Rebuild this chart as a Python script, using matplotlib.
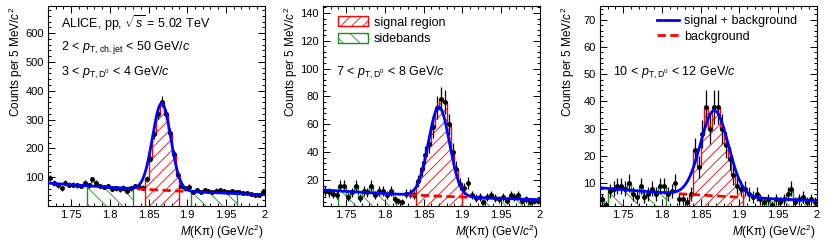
import numpy as np
import matplotlib
matplotlib.use('Agg')
import matplotlib.pyplot as plt
from matplotlib.patches import Patch
from matplotlib.lines import Line2D
from matplotlib.ticker import MultipleLocator, FixedLocator

plt.rcParams['font.family'] = ['Liberation Sans', 'DejaVu Sans']
plt.rcParams['mathtext.fontset'] = 'custom'
plt.rcParams['mathtext.rm'] = 'Liberation Sans'
plt.rcParams['mathtext.it'] = 'Liberation Sans:italic'
plt.rcParams['mathtext.bf'] = 'Liberation Sans:bold'
plt.rcParams['hatch.linewidth'] = 0.6

# ---------------- data ----------------
bin_lo, bin_hi, bin_w = 1.72, 2.0, 0.005
edges = np.round(np.arange(bin_lo, bin_hi + bin_w / 2, bin_w), 4)
centers = 0.5 * (edges[:-1] + edges[1:])

counts_p1 = [97, 80, 73, 62, 80, 75, 74, 72, 70, 80,
             72, 93, 80, 70, 66, 70, 60, 62, 58, 64,
             52, 62, 70, 68, 64, 95, 165, 250, 320, 362,
             320, 255, 180, 108, 70, 62, 68, 50, 55, 50,
             56, 52, 48, 54, 55, 52, 50, 52, 48, 50,
             45, 47, 42, 40, 38, 50]
counts_p2 = [12, 11, 10, 9, 16, 16, 8, 11, 16, 7,
             12, 11, 16, 9, 12, 12, 9, 12, 6, 5,
             4, 10, 10, 9, 19, 28, 38, 46, 58, 72,
             78, 76, 60, 40, 28, 17, 14, 18, 9, 7,
             8, 4, 8, 9, 7, 6, 8, 5, 9, 8,
             9, 5, 6, 4, 5, 5]
counts_p3 = [4, 2, 7, 8, 9, 9, 8, 10, 6, 5,
             9, 5, 6, 8, 6, 9, 9, 6, 7, 10,
             4, 4, 3, 6, 22, 16, 28, 38, 30, 38,
             38, 30, 24, 19, 13, 9, 8, 8, 6, 5,
             6, 4, 3, 4, 2, 4, 3, 4, 6, 8,
             3, 4, 5, 3, 4, 3]

# fit parameters: [bkg amplitude at 1.72, bkg slope, gaus amplitude, mean, sigma]
fit_p1 = [80.0, 2.5, 301.0, 1.867, 0.0118]
fit_p2 = [12.8, 2.8, 64.0, 1.870, 0.0135]
fit_p3 = [8.3, 3.0, 31.3, 1.868, 0.018]

signal_p1 = (1.845, 1.890)
signal_p2 = (1.840, 1.900)
signal_p3 = (1.835, 1.905)
sidebands_p1 = [(1.770, 1.830), (1.905, 1.965)]
sidebands_p2 = [(1.740, 1.815), (1.925, 1.985)]
sidebands_p3 = [(1.720, 1.805), (1.935, 2.000)]
bkg_range_p1 = (1.835, 1.900)
bkg_range_p2 = (1.830, 1.910)
bkg_range_p3 = (1.822, 1.907)

ylim_p1 = (0.5, 694)
ylim_p2 = (1.3, 145)
ylim_p3 = (1.6, 75)
yticks_p1 = [100, 200, 300, 400, 500, 600]
yticks_p2 = [20, 40, 60, 80, 100, 120, 140]
yticks_p3 = [10, 20, 30, 40, 50, 60, 70]
yminor = [20, 4, 2]

xticks = [1.75, 1.8, 1.85, 1.9, 1.95, 2.0]
xticklabels = ['1.75', '1.8', '1.85', '1.9', '1.95', '2']

texts_p1 = [r'ALICE, pp, $\sqrt{s}$ = 5.02 TeV',
            r'2 < $p_{\rm T,\,ch.jet}$ < 50 GeV/$c$',
            r'3 < $p_{\rm T,D^0}$ < 4 GeV/$c$']
texts_p2 = [r'7 < $p_{\rm T,D^0}$ < 8 GeV/$c$']
texts_p3 = [r'10 < $p_{\rm T,D^0}$ < 12 GeV/$c$']


def bkg(x, p):
    return p[0] * np.exp(-p[1] * (x - 1.72))


def total(x, p):
    return bkg(x, p) + p[2] * np.exp(-0.5 * ((x - p[3]) / p[4]) ** 2)


RED = '#ff0000'
GREEN = '#218c21'
BLUE = '#0000ff'

fig = plt.figure(figsize=(8.3, 2.42), dpi=100)
lefts = [48 / 830, 323 / 830, 600 / 830]
w = 216.5 / 830
bot = 36 / 242
h = 200 / 242

panels = [
    (counts_p1, fit_p1, signal_p1, sidebands_p1, bkg_range_p1, ylim_p1, yticks_p1, texts_p1),
    (counts_p2, fit_p2, signal_p2, sidebands_p2, bkg_range_p2, ylim_p2, yticks_p2, texts_p2),
    (counts_p3, fit_p3, signal_p3, sidebands_p3, bkg_range_p3, ylim_p3, yticks_p3, texts_p3),
]

for i, (cnt, fp, sig, sbs, brange, ylim, yt, txts) in enumerate(panels):
    ax = fig.add_axes([lefts[i], bot, w, h])
    cnt = np.array(cnt, dtype=float)

    def region(lo, hi, color, hatch):
        m = (centers > lo) & (centers < hi)
        idx = np.where(m)[0]
        e = edges[idx[0]: idx[-1] + 2]
        ax.stairs(cnt[idx], e, baseline=0, fill=True, facecolor='none',
                  edgecolor=color, hatch=hatch, linewidth=1.0, zorder=2)

    region(sig[0], sig[1], RED, '///')
    for lo, hi in sbs:
        region(lo, hi, GREEN, '\\\\')

    ax.errorbar(centers, cnt, yerr=np.sqrt(cnt), xerr=bin_w / 2, fmt='o',
                color='black', markersize=2.5, elinewidth=0.9, capsize=0, zorder=4)

    xb = np.linspace(brange[0], brange[1], 100)
    ax.plot(xb, bkg(xb, fp), color=RED, lw=2.0, ls=(0, (3, 1.6)), zorder=5)
    xf = np.linspace(1.72, 2.0, 600)
    ax.plot(xf, total(xf, fp), color=BLUE, lw=2.0, zorder=6)

    ax.set_xlim(1.72, 2.0)
    ax.set_ylim(*ylim)
    ax.xaxis.set_major_locator(FixedLocator(xticks))
    ax.set_xticklabels(xticklabels)
    ax.xaxis.set_minor_locator(MultipleLocator(0.01))
    ax.yaxis.set_major_locator(FixedLocator(yt))
    ax.yaxis.set_minor_locator(MultipleLocator(yminor[i]))
    ax.tick_params(which='both', direction='in', top=True, right=True,
                   labelsize=8, width=0.7, pad=3)
    ax.tick_params(which='major', length=5)
    ax.tick_params(which='minor', length=2.5)
    for s in ax.spines.values():
        s.set_linewidth(0.8)

    ax.set_ylabel(r'Counts per 5 MeV/$c^2$', fontsize=8.5, loc='top')
    ax.yaxis.set_label_coords(-0.105, 1.0)
    ax.set_xlabel(r'$M$(Kπ) (GeV/$c^2$)', fontsize=8.5, loc='right')
    ax.xaxis.set_label_coords(1.0, -0.085)

    if i == 0:
        ys = [0.915, 0.79, 0.665]
    else:
        ys = [0.665]
    for t, y in zip(txts, ys):
        ax.text(0.06, y, t, transform=ax.transAxes, fontsize=9, va='center', ha='left')

    if i == 1:
        handles = [Patch(facecolor='none', edgecolor=RED, hatch='///', linewidth=1.0),
                   Patch(facecolor='none', edgecolor=GREEN, hatch='\\\\', linewidth=1.0)]
        ax.legend(handles, ['signal region', 'sidebands'], loc='upper left',
                  bbox_to_anchor=(0.07, 0.948), frameon=False, fontsize=9,
                  handlelength=2.4, handleheight=0.85, handletextpad=0.45,
                  labelspacing=0.35, borderpad=0, borderaxespad=0)
    if i == 2:
        handles = [Line2D([], [], color=BLUE, lw=2.0),
                   Line2D([], [], color=RED, lw=2.0, ls=(0, (3, 1.6)))]
        ax.legend(handles, ['signal + background', 'background'], loc='upper left',
                  bbox_to_anchor=(0.262, 0.955), frameon=False, fontsize=9,
                  handlelength=1.8, handletextpad=0.4, labelspacing=0.3,
                  borderpad=0, borderaxespad=0)

fig.savefig('out.png', dpi=100)
